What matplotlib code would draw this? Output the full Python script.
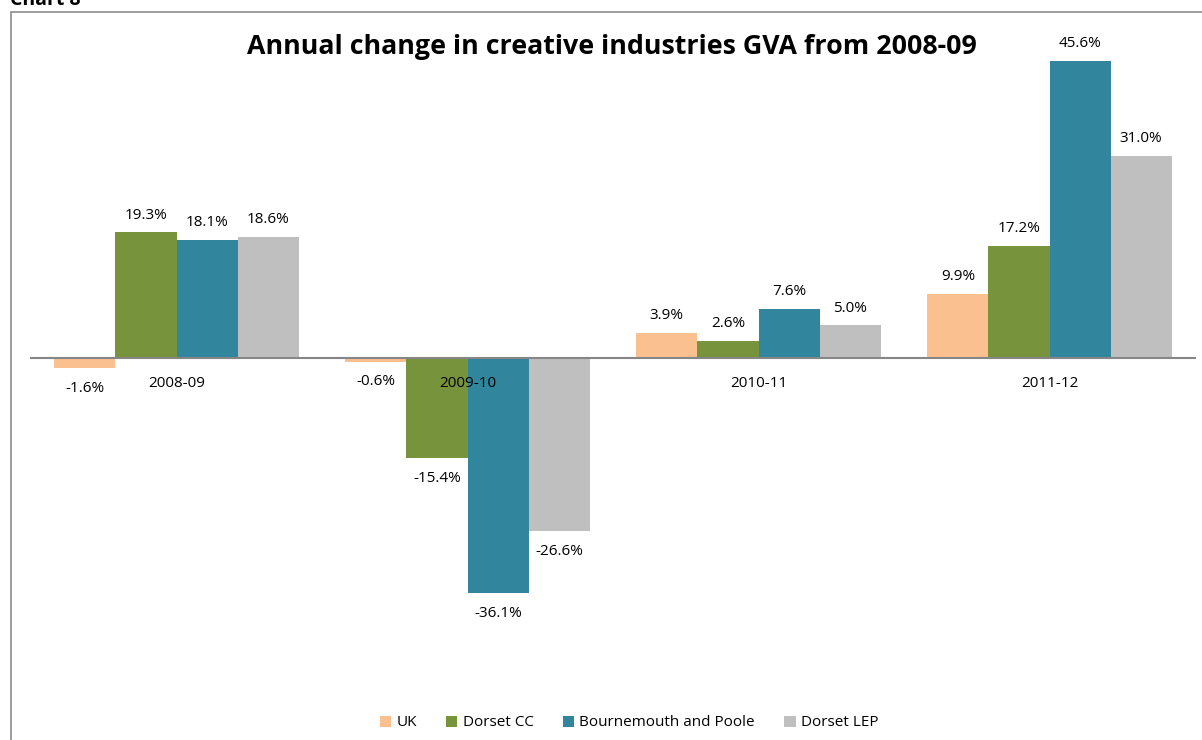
import numpy as np
import matplotlib.pyplot as plt
from matplotlib.patches import Rectangle

plt.rcParams["font.family"] = ["Open Sans", "DejaVu Sans"]

years = ["2008-09", "2009-10", "2010-11", "2011-12"]
series_names = ["UK", "Dorset CC", "Bournemouth and Poole", "Dorset LEP"]
uk = [-1.6, -0.6, 3.9, 9.9]
dorset_cc = [19.3, -15.4, 2.6, 17.2]
bournemouth_poole = [18.1, -36.1, 7.6, 45.6]
dorset_lep = [18.6, -26.6, 5.0, 31.0]
colors = ["#FAC090", "#77933C", "#31859C", "#BFBFBF"]

W, H = 1202, 740
fig = plt.figure(figsize=(W / 100, H / 100), dpi=100)

# outer chart frame (runs off the right and bottom edges)
fig.patches.append(Rectangle((11 / W, -0.05), 1.1, 1 - 12 / H + 0.05,
                             transform=fig.transFigure, fill=False,
                             edgecolor="#8c8c8c", linewidth=1.2))
fig.text(10 / W, 1.0, "Chart 8", ha="left", va="center",
         fontsize=14, fontweight="bold")

ax = fig.add_axes([31 / W, (H - 683.7) / H, (1195 - 31) / W, 651.3 / H])

x = np.arange(len(years))
bar_w = 0.21
all_series = [uk, dorset_cc, bournemouth_poole, dorset_lep]
for k, (vals, name, c) in enumerate(zip(all_series, series_names, colors)):
    pos = x + (k - 1.5) * bar_w
    ax.bar(pos, vals, bar_w, color=c, label=name)
    for px, v in zip(pos, vals):
        off = 7 if v >= 0 else -9
        ax.annotate(f"{v:.1f}%", (px, v), xytext=(0, off),
                    textcoords="offset points", ha="center",
                    va="bottom" if v >= 0 else "top", fontsize=11)

ax.set_xlim(-0.5, 3.5)
ax.set_ylim(-50, 50)
for s in ["left", "right", "top"]:
    ax.spines[s].set_visible(False)
ax.spines["bottom"].set_position(("data", 0))
ax.spines["bottom"].set_color("#868686")
ax.spines["bottom"].set_linewidth(1.5)
ax.set_xticks(x)
ax.set_xticklabels(years, fontsize=11)
ax.tick_params(axis="x", length=0, pad=13)
ax.set_yticks([])

fig.text(612 / W, 1 - 47 / H,
         "Annual change in creative industries GVA from 2008-09",
         ha="center", va="center", fontsize=19.3, fontweight="bold")

fig.legend(loc="center", bbox_to_anchor=(629 / W, 1 - 723 / H), ncol=4,
           frameon=False, fontsize=11, handlelength=0.75, handleheight=0.75,
           handletextpad=0.35, columnspacing=1.9)

fig.savefig("out.png", dpi=100)
